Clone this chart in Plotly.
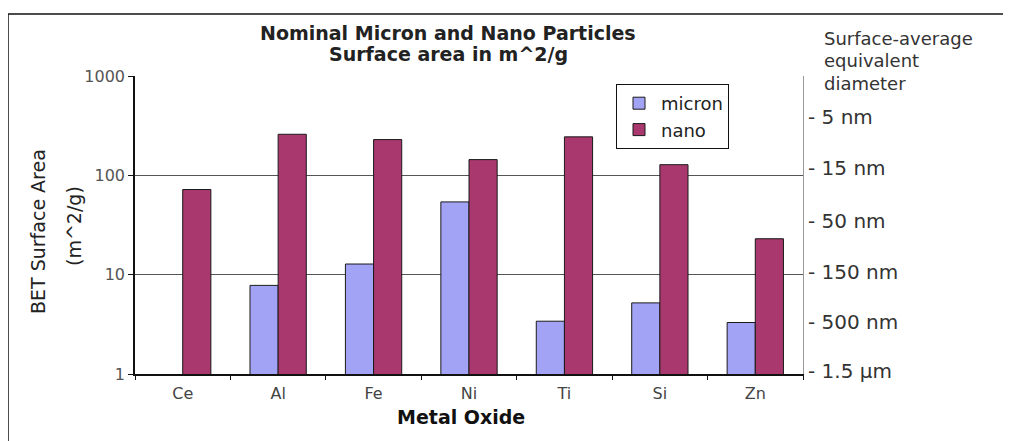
import plotly.graph_objects as go

categories = ["Ce", "Al", "Fe", "Ni", "Ti", "Si", "Zn"]
micron = [None, 7.8, 12.8, 54, 3.4, 5.2, 3.3]
nano = [72, 259, 229, 144, 244, 128, 23]

diam_labels = ["- 5 nm", "- 15 nm", "- 50 nm", "- 150 nm", "- 500 nm", "- 1.5 µm"]
diam_pos = [385, 118, 35, 10.6, 3.3, 1.07]

y_ticks = [1, 10, 100, 1000]

FONT = "DejaVu Sans, Verdana, sans-serif"

# plot area in page pixels: x 135..803, y 76..374 (page has an 8px body margin)
PL, PR, PT, PB = 135, 803, 76, 374


def px(x):
    return (x - PL) / (PR - PL)


def py(y):
    return (PB - y) / (PB - PT)


fig = go.Figure()
fig.add_trace(go.Bar(x=categories, y=micron, name="micron",
                     marker=dict(color="#A3A3F5", line=dict(color="#1a1a1a", width=1))))
fig.add_trace(go.Bar(x=categories, y=nano, name="nano",
                     marker=dict(color="#A8386E", line=dict(color="#1a1a1a", width=1))))
# invisible helper trace so the right-hand diameter axis is drawn
fig.add_trace(go.Scatter(x=[categories[0]], y=[None], yaxis="y2", mode="markers",
                         showlegend=False, hoverinfo="skip"))

fig.update_layout(
    width=1003, height=433,
    margin=dict(l=PL - 8, r=1011 - PR, t=PT - 8, b=441 - PB),
    paper_bgcolor="white", plot_bgcolor="white",
    barmode="group", bargap=0.41, bargroupgap=0,
    font=dict(family=FONT, color="#333333"),
    showlegend=True,
    legend=dict(x=px(616), y=py(84), xanchor="left", yanchor="top",
                bordercolor="#111111", borderwidth=1, bgcolor="white",
                font=dict(size=18, color="#222222"), tracegroupgap=0,
                itemwidth=34),
    xaxis=dict(type="category", showline=True, linecolor="#111111", linewidth=1.5,
               ticks="outside", tickson="boundaries", ticklen=4, tickcolor="#111111",
               ticklabelstandoff=4,
               tickfont=dict(size=16, color="#444444"), showgrid=False),
    yaxis=dict(type="log", range=[0, 3], tickvals=y_ticks, ticktext=[str(v) for v in y_ticks],
               showline=True, linecolor="#111111", linewidth=1.5,
               ticks="outside", ticklen=5, tickcolor="#111111",
               tickfont=dict(size=16, color="#555555"),
               showgrid=True, gridcolor="#555555", gridwidth=1, zeroline=False),
    yaxis2=dict(type="log", range=[0, 3], overlaying="y", side="right",
                tickvals=diam_pos, ticktext=diam_labels, ticks="",
                showline=True, linecolor="#999999", linewidth=1,
                tickfont=dict(size=20, color="#333333"), showgrid=False, zeroline=False),
)


def note(text, x, y, size, xanchor="center", angle=0, color="#222222"):
    return dict(text=text, x=px(x), y=py(y), xref="paper", yref="paper",
                xanchor=xanchor, yanchor="middle", textangle=angle,
                showarrow=False, font=dict(size=size, color=color))


annotations = [
    note("<b>Nominal Micron and Nano Particles</b>", 448, 33, 19),
    note("<b>Surface area in m^2/g</b>", 448, 54, 19),
    note("Surface-average", 822, 39, 18, xanchor="left", color="#333333"),
    note("equivalent", 822, 61, 18, xanchor="left", color="#333333"),
    note("diameter", 822, 83, 18, xanchor="left", color="#333333"),
    note("BET Surface Area", 38, 232, 19, angle=-90),
    note("(m^2/g)", 74, 226, 19, angle=-90),
    note("<b>Metal Oxide</b>", 461, 417, 19, color="#111111"),
]
fig.update_layout(annotations=annotations)

# outer frame (only its left and top edges are inside the picture)
fig.add_shape(type="line", xref="paper", yref="paper", x0=px(8), x1=px(8), y0=py(460), y1=py(14),
              line=dict(color="#111111", width=1.5))
fig.add_shape(type="line", xref="paper", yref="paper", x0=px(8), x1=px(1030), y0=py(14), y1=py(14),
              line=dict(color="#111111", width=1.5))

fig.write_html("out.html")
